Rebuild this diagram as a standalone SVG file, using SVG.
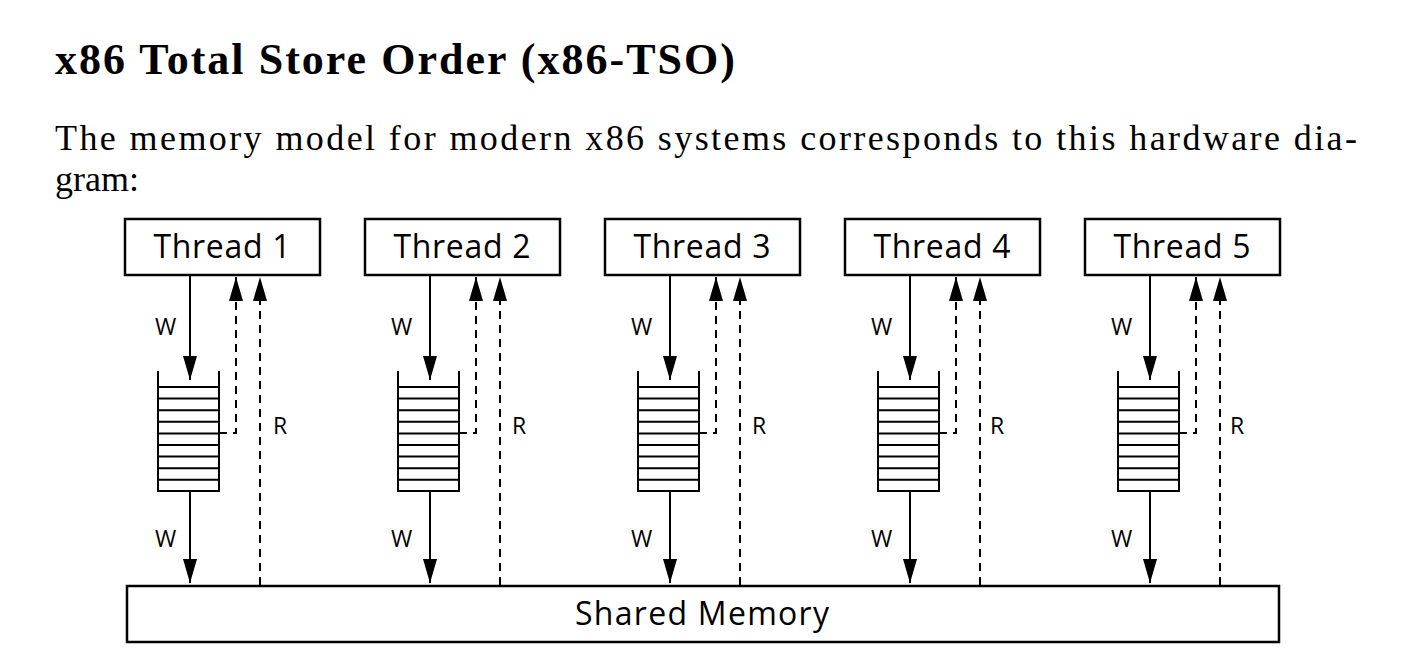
<svg xmlns="http://www.w3.org/2000/svg" width="1416" height="656" viewBox="0 0 1416 656">
<style>
.h{font-family:"Liberation Serif",serif;font-weight:bold;font-size:44px}
.p{font-family:"Liberation Serif",serif;font-size:36px}
.t{font-family:"Open Sans",sans-serif;font-size:32px;text-anchor:middle}
.l{font-family:"Open Sans",sans-serif;font-size:23px}
.box{fill:#fff;stroke:#000;stroke-width:2.5}
.s{stroke:#000;stroke-width:2;fill:none}
.d{stroke:#000;stroke-width:2;fill:none;stroke-dasharray:8,6}
</style>
<defs>
<marker id="a" markerWidth="24" markerHeight="14" refX="24" refY="7" orient="auto" markerUnits="userSpaceOnUse" viewBox="0 0 24 14"><path d="M0,0 L24,7 L0,14 Z"/></marker>
<g id="q">
<path class="s" d="M0,0 V120 H61 V0"/>
<path class="s" d="M0,16H61M0,27.6H61M0,39.2H61M0,50.8H61M0,62.4H61M0,74H61M0,85.6H61M0,97.2H61M0,108.8H61"/>
</g>
</defs>
<text class="h" x="55" y="74" textLength="680">x86 Total Store Order (x86-TSO)</text>
<text class="p" x="55" y="150" textLength="1302">The memory model for modern x86 systems corresponds to this hardware dia-</text>
<text class="p" x="55" y="191">gram:</text>
<g id="connectors">
<g id="c1">
<path class="s" d="M190,275V380" marker-end="url(#a)"/>
<path class="s" d="M190,491V583" marker-end="url(#a)"/>
<path class="d" d="M219,433H236V277" marker-end="url(#a)"/>
<path class="d" d="M260,585V277" marker-end="url(#a)"/>
</g>
<use href="#c1" transform="translate(240,0)"/>
<use href="#c1" transform="translate(480,0)"/>
<use href="#c1" transform="translate(720,0)"/>
<use href="#c1" transform="translate(960,0)"/>
</g>
<g id="thread1"><rect class="box" x="125" y="219" width="195" height="56"/><text class="t" x="222" y="258" textLength="137">Thread 1</text><use href="#q" x="158" y="371"/><text class="l" x="155" y="335">W</text><text class="l" x="155" y="547">W</text><text class="l" x="273" y="434">R</text></g>
<g id="thread2"><rect class="box" x="365" y="219" width="195" height="56"/><text class="t" x="462" y="258" textLength="137">Thread 2</text><use href="#q" x="398" y="371"/><text class="l" x="391" y="335">W</text><text class="l" x="391" y="547">W</text><text class="l" x="512" y="434">R</text></g>
<g id="thread3"><rect class="box" x="605" y="219" width="195" height="56"/><text class="t" x="702" y="258" textLength="137">Thread 3</text><use href="#q" x="638" y="371"/><text class="l" x="631" y="335">W</text><text class="l" x="631" y="547">W</text><text class="l" x="752" y="434">R</text></g>
<g id="thread4"><rect class="box" x="845" y="219" width="195" height="56"/><text class="t" x="942" y="258" textLength="137">Thread 4</text><use href="#q" x="878" y="371"/><text class="l" x="871" y="335">W</text><text class="l" x="871" y="547">W</text><text class="l" x="990" y="434">R</text></g>
<g id="thread5"><rect class="box" x="1085" y="219" width="195" height="56"/><text class="t" x="1182" y="258" textLength="137">Thread 5</text><use href="#q" x="1118" y="371"/><text class="l" x="1111" y="335">W</text><text class="l" x="1111" y="547">W</text><text class="l" x="1230" y="434">R</text></g>
<g id="memory"><rect class="box" x="127" y="586" width="1152" height="56"/><text class="t" x="702" y="625" textLength="254">Shared Memory</text></g>
</svg>
